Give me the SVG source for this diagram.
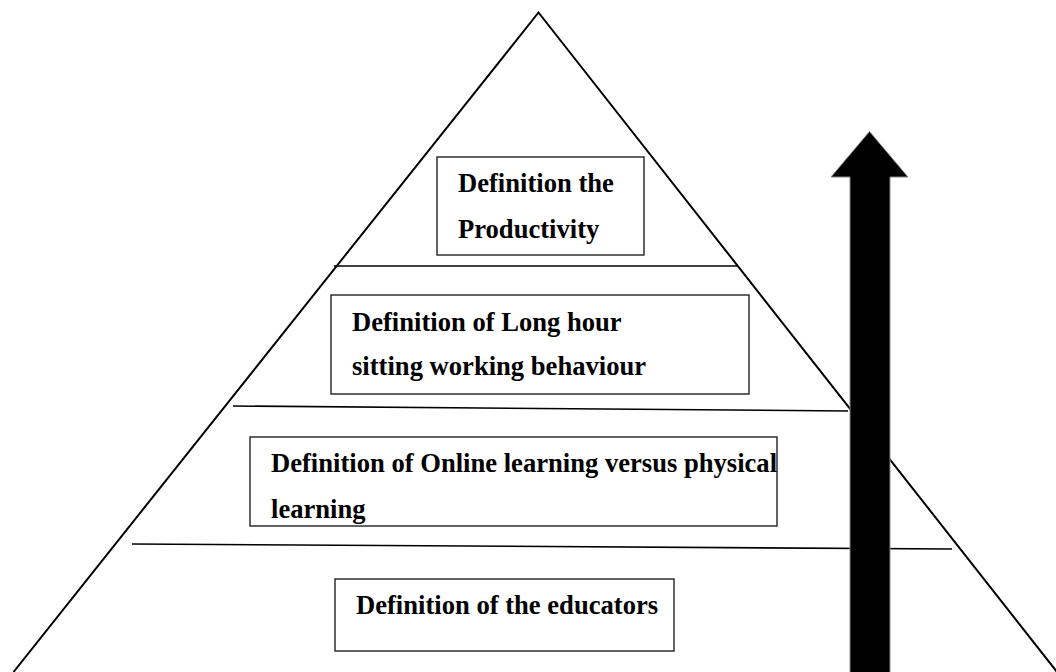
<svg xmlns="http://www.w3.org/2000/svg" width="1056" height="672" viewBox="0 0 1056 672">
  <style>
    .edge { fill: none; stroke: #000; stroke-width: 2; }
    .tier { fill: none; stroke: #000; stroke-width: 1.6; }
    .box { fill: #fff; stroke: #222; stroke-width: 1.4; }
    .label { font-family: "Liberation Serif", "Times New Roman", serif; font-weight: bold; font-size: 26.6px; fill: #000; }
    .arrow { fill: #000; stroke: #888; stroke-width: 1; }
  </style>
  <rect width="1056" height="672" fill="#fff"/>

  <!-- pyramid outline -->
  <g id="pyramid">
    <polyline class="edge" points="13.5,672 538.5,12.5 1057,672"/>
  </g>

  <!-- tier dividers -->
  <g id="connectors">
    <line class="tier" x1="334" y1="266" x2="738" y2="266"/>
    <line class="tier" x1="233" y1="406" x2="848" y2="411"/>
    <line class="tier" x1="132" y1="544" x2="952" y2="549"/>
  </g>

  <g id="node-productivity">
    <rect class="box" x="437" y="157" width="207" height="98"/>
    <text class="label" x="458" y="192">Definition the</text>
    <text class="label" x="458" y="238">Productivity</text>
  </g>

  <g id="node-sitting">
    <rect class="box" x="331" y="295" width="418" height="99"/>
    <text class="label" x="352" y="331">Definition of Long hour</text>
    <text class="label" x="352" y="375">sitting working behaviour</text>
  </g>

  <g id="node-learning">
    <rect class="box" x="250" y="437" width="527" height="89"/>
    <text class="label" x="271" y="472">Definition of Online learning versus physical</text>
    <text class="label" x="271" y="518">learning</text>
  </g>

  <g id="node-educators">
    <rect class="box" x="335" y="579" width="339" height="72"/>
    <text class="label" x="356" y="614">Definition of the educators</text>
  </g>

  <!-- upward arrow -->
  <g id="arrow-up">
    <polygon class="arrow" points="869.5,131.5 908,177 890,177 890,674 850,674 850,177 831,177"/>
  </g>
</svg>
